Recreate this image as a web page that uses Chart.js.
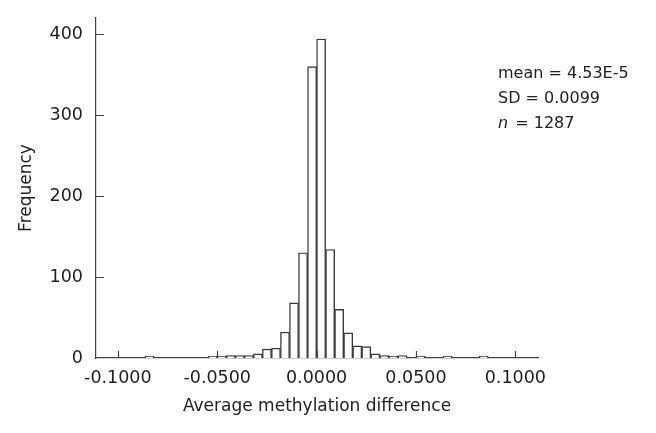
<!DOCTYPE html>
<html>
<head>
<meta charset="utf-8">
<script src="https://cdn.jsdelivr.net/npm/chart.js@4.4.1/dist/chart.umd.min.js"></script>
<style>
  body { margin: 0; background: #fff; }
</style>
</head>
<body>
<canvas id="histChart" width="656" height="433"></canvas>
<script>
// histogram bins: width 0.05/11, first bin starts 19 bins left of zero
const binWidth = 0.05 / 11;
const firstBin = -19;
// frequency per bin (null = empty bin), bins -19 .. 18
const counts = [
  1, null, null, null, null, null, null,
  1, 2, 3, 3, 3, 5, 11, 12, 32, 68, 130, 360,
  394, 134, 60, 31, 15, 14, 5, 3, 2, 3, null,
  1, null, null, 1, null, null, null, 1
];
const xTicks = [-0.1, -0.05, 0, 0.05, 0.1];
const yTicks = [0, 100, 200, 300, 400];
const statsLines = ['mean = 4.53E-5', 'SD = 0.0099', '= 1287'];

const binCenters = counts.map((c, i) => (firstBin + i + 0.5) * binWidth);
const points = binCenters.map((x, i) => ({x: x, y: counts[i]}));

const FONT = '"DejaVu Sans", Verdana, sans-serif';

// ticks point inward, drawn over the bars
const innerTicks = {
  id: 'innerTicks',
  afterDatasetsDraw(chart) {
    const ctx = chart.ctx;
    const xs = chart.scales.x, ys = chart.scales.y;
    ctx.save();
    ctx.strokeStyle = '#444';
    ctx.lineWidth = 1.2;
    ctx.beginPath();
    xs.ticks.forEach(t => {
      const px = Math.round(xs.getPixelForValue(t.value)) + 0.5;
      ctx.moveTo(px, ys.bottom);
      ctx.lineTo(px, ys.bottom - 7);
    });
    ys.ticks.forEach(t => {
      const py = Math.round(ys.getPixelForValue(t.value)) + 0.5;
      if (t.value === 0) return;
      ctx.moveTo(xs.left, py);
      ctx.lineTo(xs.left + 8, py);
    });
    ctx.stroke();
    ctx.restore();
  }
};

const statsText = {
  id: 'statsText',
  afterDraw(chart) {
    const ctx = chart.ctx;
    const x0 = 498;
    ctx.save();
    ctx.fillStyle = '#222';
    ctx.textBaseline = 'middle';
    ctx.font = '16px ' + FONT;
    ctx.fillText(statsLines[0], x0, 74);
    ctx.fillText(statsLines[1], x0, 99);
    ctx.font = 'italic 16px ' + FONT;
    ctx.fillText('n', x0, 124);
    const w = ctx.measureText('n ').width;
    ctx.font = '16px ' + FONT;
    ctx.fillText(statsLines[2], x0 + w + 2, 124);
    ctx.restore();
  }
};

new Chart(document.getElementById('histChart'), {
  type: 'bar',
  data: {
    datasets: [{
      data: points,
      backgroundColor: '#fff',
      borderColor: '#3a3a3a',
      borderWidth: 1.4,
      borderSkipped: 'start',
      minBarLength: 2,
      barPercentage: 1,
      categoryPercentage: 1
    }]
  },
  options: {
    responsive: false,
    animation: false,
    layout: { padding: { top: 18, right: 118, left: 0, bottom: 0 } },
    plugins: { legend: { display: false }, tooltip: { enabled: false } },
    scales: {
      x: {
        type: 'linear',
        offset: false,
        min: -0.111,
        max: 0.1114,
        afterBuildTicks: s => { s.ticks = xTicks.map(v => ({value: v})); },
        afterFit: s => { s.height = 75; },
        grid: { display: false, offset: false },
        border: { color: '#444', width: 1.2 },
        ticks: {
          padding: 2,
          color: '#222',
          font: { family: FONT, size: 17.5 },
          maxRotation: 0,
          callback: v => v.toFixed(4)
        },
        title: {
          display: true,
          text: 'Average methylation difference',
          color: '#222',
          font: { family: FONT, size: 17 },
          padding: { top: 0, bottom: 16 }
        }
      },
      y: {
        min: 0,
        max: 420,
        afterBuildTicks: s => { s.ticks = yTicks.map(v => ({value: v})); },
        afterFit: s => { s.width = 96; },
        grid: { display: false },
        border: { color: '#444', width: 1.2 },
        ticks: {
          padding: 5,
          color: '#222',
          font: { family: FONT, size: 17.5 }
        },
        title: {
          display: true,
          text: 'Frequency',
          color: '#222',
          font: { family: FONT, size: 17 },
          padding: { top: 16, bottom: 0 }
        }
      }
    }
  },
  plugins: [innerTicks, statsText]
});
</script>
</body>
</html>
